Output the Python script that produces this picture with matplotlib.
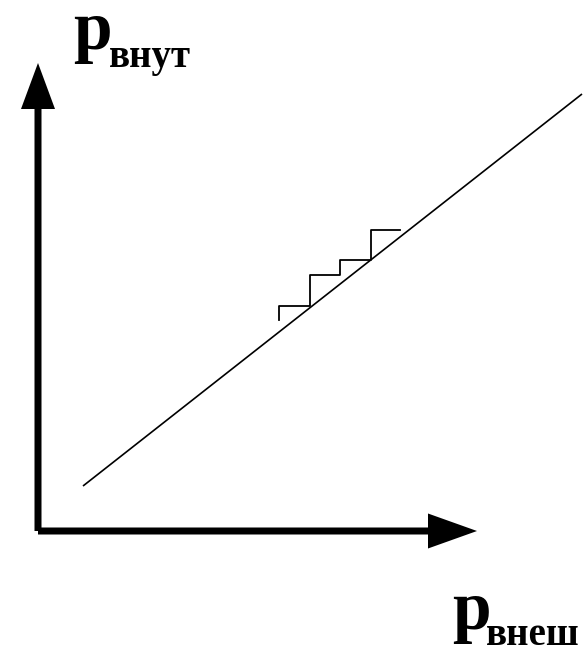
import matplotlib
matplotlib.use('Agg')
import matplotlib.pyplot as plt

# diagonal line p_vnut = f(p_vnesh)
line_x = [45, 544]
line_y = [45, 437]

# staircase near the line
stair_x = [241.3, 241.3, 272, 272, 302, 302, 332.7, 332.7, 362]
stair_y = [211, 225.3, 225.3, 256, 256, 271, 271, 301, 301]

x_label = ('p', 'внеш')
y_label = ('p', 'внут')

fig = plt.figure(figsize=(5.87, 6.48), dpi=100)
ax = fig.add_axes([0, 0, 1, 1])
ax.set_xlim(-38, 549)
ax.set_ylim(-117, 531)
ax.axis('off')

# axes arrows
ax.arrow(0, 0, 0, 468, width=7, head_width=34, head_length=46,
         length_includes_head=True, color='black', lw=0)
ax.arrow(0, 0, 439, 0, width=7, head_width=35, head_length=49,
         length_includes_head=True, color='black', lw=0)

ax.plot(line_x, line_y, color='black', lw=1.2, solid_capstyle='butt')
ax.plot(stair_x, stair_y, color='black', lw=1.3)

font = dict(family='Liberation Serif', weight='bold', color='black')
ax.text(35, 482, y_label[0], fontsize=50, va='baseline', ha='left', **font)
ax.text(71, 464, y_label[1], fontsize=28, va='baseline', ha='left', **font)
ax.text(414, -98, x_label[0], fontsize=50, va='baseline', ha='left', **font)
ax.text(448, -114, x_label[1], fontsize=28, va='baseline', ha='left', **font)

fig.savefig('out.png', dpi=100)
